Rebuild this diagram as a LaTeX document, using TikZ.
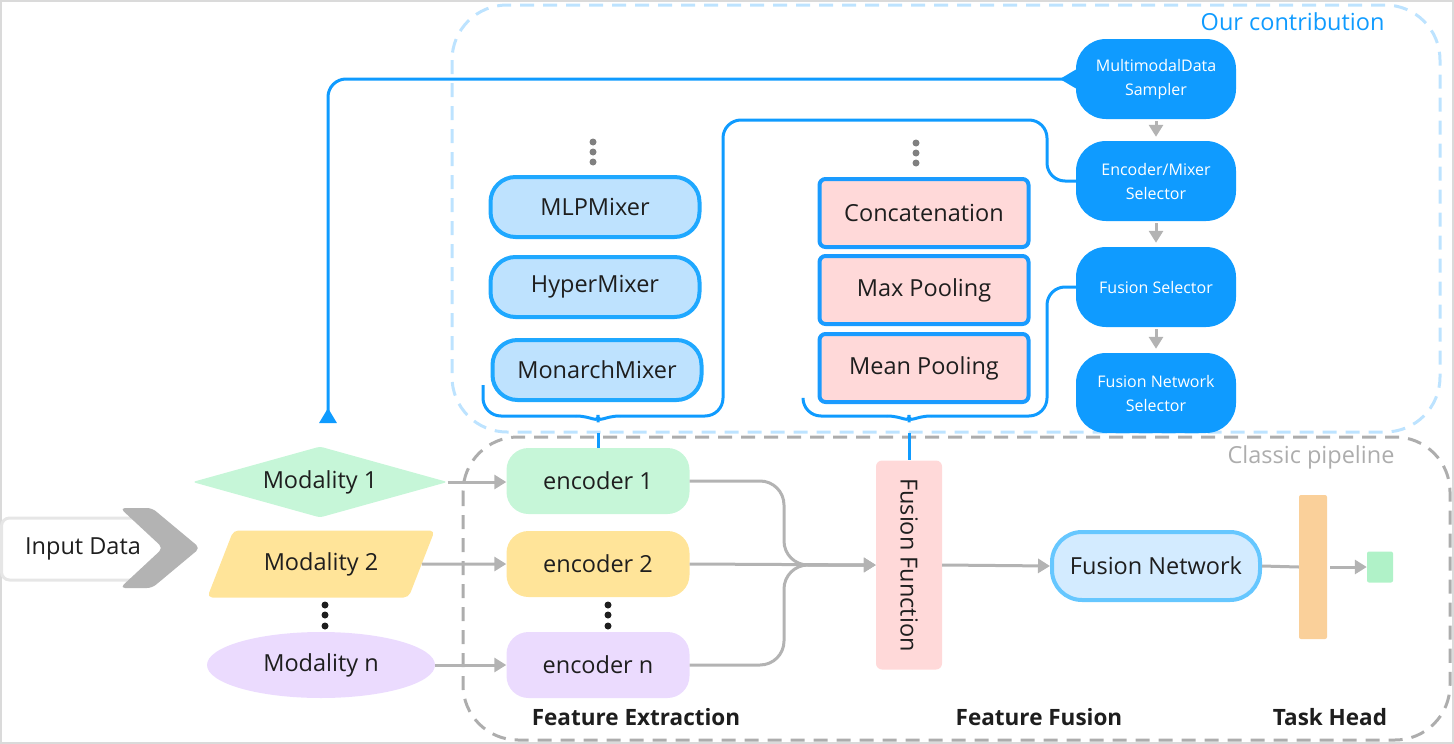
\documentclass[tikz,border=0pt]{standalone}
\usepackage{fontspec}
\setmainfont{Open Sans}
\usetikzlibrary{arrows.meta,shapes.geometric}

\definecolor{ink}{HTML}{1E1E1E}
\definecolor{selblue}{HTML}{0F9BFF}
\definecolor{dashblue}{HTML}{BDE3FF}
\definecolor{dashgrey}{HTML}{ADADAD}
\definecolor{linegrey}{HTML}{B3B3B3}
\definecolor{framegrey}{HTML}{DADADA}
\definecolor{mixfill}{HTML}{BEE2FE}
\definecolor{mixdraw}{HTML}{1FA8FF}
\definecolor{poolfill}{HTML}{FFD9D9}
\definecolor{pooldraw}{HTML}{1A9BFF}
\definecolor{mintgreen}{HTML}{C6F6D8}
\definecolor{softyellow}{HTML}{FFE499}
\definecolor{lavender}{HTML}{EBDBFE}
\definecolor{netfill}{HTML}{D3EBFF}
\definecolor{netdraw}{HTML}{66C7FF}
\definecolor{headorange}{HTML}{FAD09A}
\definecolor{outgreen}{HTML}{B0F2C8}
\definecolor{dotgrey}{HTML}{808080}
\definecolor{inboxgrey}{HTML}{E6E6E6}

\tikzset{
  txt/.style={text=ink,font=\fontsize{23.5}{28}\selectfont},
  boldtxt/.style={text=ink,font=\fontsize{22.5}{26}\selectfont\bfseries},
  encbox/.style={txt,rounded corners=22pt,minimum width=183pt,minimum height=66pt},
  mixbox/.style={txt,fill=mixfill,draw=mixdraw,line width=4pt,rounded corners=25pt,
                 minimum width=209pt,minimum height=60pt},
  poolbox/.style={txt,fill=poolfill,draw=pooldraw,line width=4pt,rounded corners=6pt,
                  minimum width=209pt,minimum height=68pt},
  selbox/.style={fill=selblue,text=white,rounded corners=30pt,minimum width=160pt,
                 minimum height=80pt,align=center,font=\fontsize{16}{24}\selectfont},
  gline/.style={draw=linegrey,line width=3pt},
  garrow/.style={gline,-{Triangle[length=12pt,width=14pt]}},
  bline/.style={draw=selblue,line width=3pt,rounded corners=18pt},
}

\begin{document}
\begin{tikzpicture}[x=1pt,y=-1pt]
  \useasboundingbox (0,0) rectangle (1454,744);
  %cornice
  \draw[framegrey,line width=2pt] (1,1) rectangle (1453,743);
  %riquadri tratteggiati
  \draw[dashblue,line width=3pt,dash pattern=on 14pt off 9pt,rounded corners=55pt]
       (452,5) rectangle (1440,432);
  \draw[dashgrey,line width=3pt,dash pattern=on 14pt off 9pt,rounded corners=55pt]
       (463,437) rectangle (1450,740);
  \node[txt,text=selblue,anchor=east] (ourlbl) at (1388,22) {Our contribution};
  \node[txt,text=dashgrey,anchor=east] (classlbl) at (1398,457) {Classic pipeline};

  %input
  \node[txt,draw=inboxgrey,line width=3pt,rounded corners=8pt,minimum width=163pt,
        minimum height=62pt,inner sep=0pt] (input) at (83,549) {Input Data};
  \fill[linegrey,rounded corners=5pt] (120,508) -- (152,508) -- (200,548) -- (152,588)
       -- (120,588) -- (163,548) -- cycle;

  %modalita
  \node[txt,diamond,aspect=3.6,fill=mintgreen,rounded corners=3pt,inner sep=0pt,
        minimum width=255pt,minimum height=71pt] (mod1) at (320,482) {Modality 1};
  \node[txt,trapezium,trapezium left angle=54,trapezium right angle=126,
        trapezium stretches=true,fill=softyellow,rounded corners=5pt,inner sep=0pt,
        minimum width=228pt,minimum height=67pt] (mod2) at (321,564) {Modality 2};
  \node[txt,ellipse,fill=lavender,inner sep=0pt,minimum width=228pt,
        minimum height=66pt] (modn) at (321,665) {Modality n};
  \foreach \y in {605,615,626} \fill[ink] (325,\y) circle (3.5pt);

  %encoder
  \node[encbox,fill=mintgreen] (enc1) at (598,481) {encoder 1};
  \node[encbox,fill=softyellow] (enc2) at (598,564) {encoder 2};
  \node[encbox,fill=lavender] (encn) at (598,665) {encoder n};
  \foreach \y in {605,615,626} \fill[ink] (608,\y) circle (3.5pt);
  \draw[garrow] (mod1.east) -- (mod1.east -| enc1.west);
  \draw[garrow] (mod2.east) -- (enc2.west);
  \draw[garrow] (modn.east) -- (encn.west);

  %mixer
  \node[mixbox] (mlp) at (595,207) {MLPMixer};
  \node[mixbox] (hyper) at (595,287) {HyperMixer};
  \node[mixbox] (monarch) at (597,370) {MonarchMixer};
  \foreach \y in {142,152,162} \fill[dotgrey] (593,\y) circle (3.5pt);

  %fusione
  \node[poolbox] (concat) at (924,213) {Concatenation};
  \node[poolbox] (maxpool) at (924,290) {Max Pooling};
  \node[poolbox] (meanpool) at (924,368) {Mean Pooling};
  \foreach \y in {143,153,163} \fill[dotgrey] (916,\y) circle (3.5pt);

  \node[fill=poolfill,rounded corners=6pt,minimum width=66pt,minimum height=209pt]
       (ff) at (909,565) {};
  \node[txt,rotate=-90] (fflbl) at (ff) {Fusion Function};
  \draw[garrow,rounded corners=24pt] (enc1.east) -| (784,565) -- (ff.west);
  \draw[garrow,rounded corners=24pt] (encn.east) -| (784,565) -- (ff.west);
  \draw[garrow] (enc2.east) -- (ff.west);

  \node[txt,fill=netfill,draw=netdraw,line width=4pt,rounded corners=30pt,
        minimum width=208pt,minimum height=68pt] (fnet) at (1156,566) {Fusion Network};
  \draw[garrow] (ff.east) -- (fnet.west);

  %task head
  \node[fill=headorange,rounded corners=2pt,minimum width=28pt,minimum height=144pt,
        inner sep=0pt] (head) at (1313,567) {};
  \node[fill=outgreen,rounded corners=2pt,minimum width=26pt,minimum height=31pt,
        inner sep=0pt] (out) at (1380,567) {};
  \draw[gline] (fnet.east) -- (head.west);
  \draw[garrow] (head.east) ++(3,0) -- (out.west);

  \node[boldtxt] (fextr) at (636,717) {Feature Extraction};
  \node[boldtxt] (ffus) at (1039,717) {Feature Fusion};
  \node[boldtxt] (thead) at (1330,717) {Task Head};

  %selettori
  \node[selbox] (sampler) at (1156,79) {MultimodalData\\Sampler};
  \node[selbox] (esel) at (1156,181) {Encoder/Mixer\\Selector};
  \node[selbox] (fsel) at (1156,287) {Fusion Selector};
  \node[selbox] (nsel) at (1156,393) {Fusion Network\\Selector};
  \foreach \a/\b in {sampler/esel,esel/fsel,fsel/nsel}
    \draw[garrow,shorten <=2pt,shorten >=4pt] (\a) -- (\b);

  %collegamenti blu
  \coordinate (loopend) at (328,423);
  \draw[bline,{Triangle[reversed,length=16pt,width=18pt]}-{Triangle[reversed,length=15pt,width=17pt]}]
       (sampler.west) -| (loopend);
  \coordinate (mixL) at (483,385);
  \coordinate (mixT) at (598,433);
  \draw[bline] (mixL) -- (483,416) -- (576,416);
  \draw[bline] (576,416) .. controls (592,416) and (598,424) .. (mixT)
               .. controls (598,424) and (604,416) .. (620,416);
  \draw[bline] (620,416) -- (723,416) |- (1047,120) |- (esel.west);
  \draw[bline] (mixT) -- (enc1.north);
  \coordinate (poolL) at (803,400);
  \coordinate (poolT) at (909,433);
  \draw[bline] (poolL) -- (803,416) -- (887,416);
  \draw[bline] (887,416) .. controls (903,416) and (909,424) .. (poolT)
               .. controls (909,424) and (915,416) .. (931,416);
  \draw[bline] (931,416) -- (1047,416) |- (fsel.west);
  \draw[bline] (poolT) -- (ff.north);
\end{tikzpicture}
\end{document}
